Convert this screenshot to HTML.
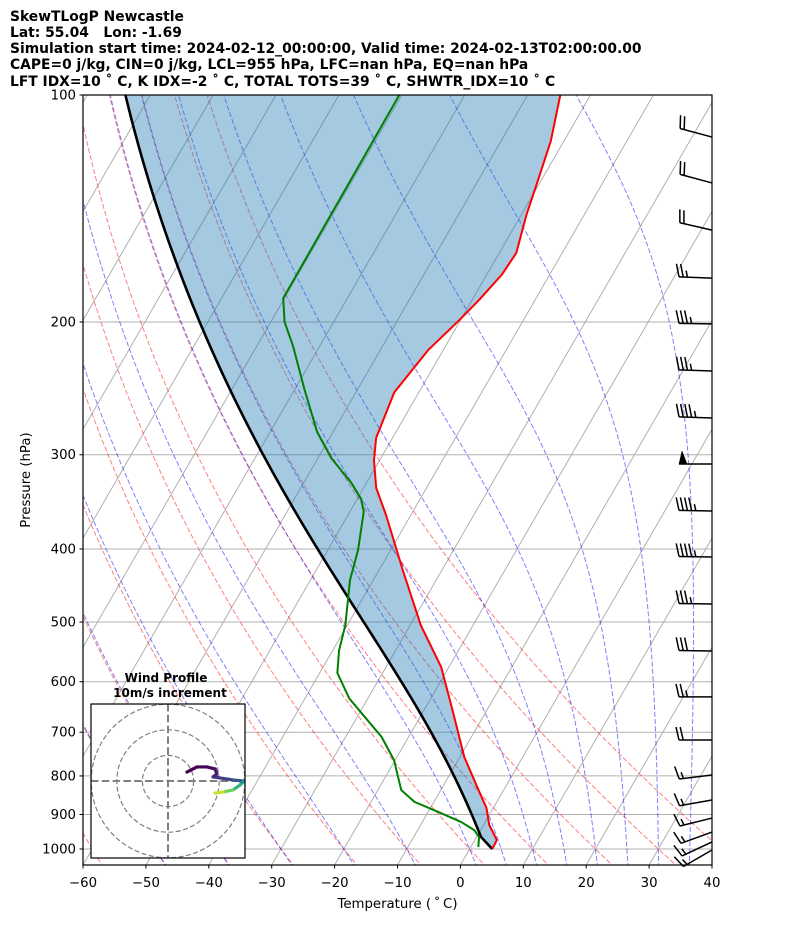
<!DOCTYPE html>
<html><head><meta charset="utf-8"><style>
html,body{margin:0;padding:0;background:#fff;}
svg{display:block;font-family:"DejaVu Sans","Liberation Sans",sans-serif;}
</style></head><body>
<svg id="chart" width="794" height="937" viewBox="0 0 794 937" xmlns="http://www.w3.org/2000/svg">
<defs>
<clipPath id="plotclip"><rect x="83" y="95" width="629" height="770"/></clipPath>
<clipPath id="hodoclip"><rect x="91" y="704" width="154" height="154"/></clipPath>
</defs>
<g font-weight="bold" font-size="13.85" fill="#000">
<text x="10" y="21">SkewTLogP Newcastle</text>
<text x="10" y="37" xml:space="preserve">Lat: 55.04   Lon: -1.69</text>
<text x="10" y="53">Simulation start time: 2024-02-12_00:00:00, Valid time: 2024-02-13T02:00:00.00</text>
<text x="10" y="69">CAPE=0 j/kg, CIN=0 j/kg, LCL=955 hPa, LFC=nan hPa, EQ=nan hPa</text>
<text x="10" y="86">LFT IDX=10 ˚ C, K IDX=-2 ˚ C, TOTAL TOTS=39 ˚ C, SHWTR_IDX=10 ˚ C</text>
</g>
<g id="bg" clip-path="url(#plotclip)"></g>
<g id="fg" clip-path="url(#plotclip)"></g>
<g id="barbs"></g>
<g id="axes"></g>
<g id="hodo"></g>
</svg>
<script>
// ---- data ----
const tempP = [1000,973,929,882,840,755,660,574,505,427,361,332,305,285,248,218,199,187,173,162,144,130,115,100];
const tempT = [3.6,3.5,0.9,-1.1,-3.7,-9.3,-15.1,-21.2,-28.3,-36.2,-43.9,-48.0,-50.9,-52.6,-53.9,-52.4,-50.2,-48.9,-47.6,-47.3,-49.2,-50.5,-52.1,-54.8];
const dewP = [994,964,944,921,893,866,835,762,710,660,631,584,545,505,440,401,357,344,327,303,280,246,215,200,186,100];
const dewTd = [1.2,0.4,-1.0,-3.8,-8.4,-13.1,-16.3,-20.2,-24.3,-29.7,-33.0,-37.2,-39.0,-40.3,-43.7,-45.2,-47.8,-49.3,-52.4,-57.9,-62.5,-68.4,-74.3,-77.8,-80.2,-80.4];
const barbP = [113.7,130.8,151.1,174.9,201.2,232.3,268.2,308.6,356.2,410.0,473.3,546.3,628.5,717,797.8,861,909.8,949.5,978.8,1003];
const barbSpd = [20,20,20,25,35,35,45,50,45,45,35,30,25,20,15,15,15,15,15,15];
const barbDir = [285,285,283,272,271,272,272,270,271,271,271,271,270,270,263,260,256,250,245,240];
const hodoU = [7.4,11.3,15.2,18.4,19.1,17.6,20.3,25.4,29.3,31.5,31.0,28.1,25.4,21.5,18.4];
const hodoV = [3.5,5.5,5.5,4.7,2.7,1.6,1.2,0.4,0.0,0.5,1.5,-1.6,-3.5,-4.3,-4.7];
const pTicks = [100,200,300,400,500,600,700,800,900,1000];
const tTicks = [-60,-50,-40,-30,-20,-10,0,10,20,30,40];
const dryT0 = [-100,-90,-80,-70,-60,-50,-40,-30,-20,-10,0,10,20,30,40];
const moistT0 = [-50,-40,-30,-20,-10,0,5,10,15,20,25,30,35,40,45];

// ---- axis functions ----
const Y0=95, YSPAN=754, YBOT=865, X0=83, XS=6.29, SK=0.5774;
function yP(p){return Y0+YSPAN*Math.log10(p/100);}
function xT(T,p){return X0+(T+60)*XS+SK*(YBOT-yP(p));}
const NS="http://www.w3.org/2000/svg";
function mk(tag,attrs,parent){const e=document.createElementNS(NS,tag);for(const k in attrs)e.setAttribute(k,attrs[k]);parent.appendChild(e);return e;}
function pathFrom(ps,ts){let d="";for(let i=0;i<ps.length;i++){d+=(i?"L":"M")+xT(ts[i],ps[i]).toFixed(2)+","+yP(ps[i]).toFixed(2);}return d;}

// thermo
const Rd=287.04,Cp=1005.7,Lv=2.501e6,EPS=0.622;
function es(Tc){return 6.112*Math.exp(17.67*Tc/(Tc+243.5));}
function rs(Tk,p){const e=es(Tk-273.15);return EPS*e/(p-e);}
function dTdp(Tk,p){const r=rs(Tk,p);return (Rd*Tk+Lv*r)/(Cp+Lv*Lv*r*EPS/(Rd*Tk*Tk))/p;}
function moist(Tstart,pstart,pend,n){let T=Tstart+273.15,p=pstart;const h=(pend-pstart)/n;const out=[[p,T-273.15]];
 for(let i=0;i<n;i++){const k1=dTdp(T,p),k2=dTdp(T+h/2*k1,p+h/2),k3=dTdp(T+h/2*k2,p+h/2),k4=dTdp(T+h*k3,p+h);T+=h/6*(k1+2*k2+2*k3+k4);p+=h;out.push([p,T-273.15]);}return out;}

const bg=document.getElementById('bg'), fg=document.getElementById('fg');
for(let T=-160;T<=40;T+=10){const l=mk('line',{x1:xT(T,1060),y1:yP(1060),x2:xT(T,95),y2:yP(95),stroke:'#b0b0b0','stroke-width':1},bg);

}
pTicks.forEach(p=>{const l=mk('line',{x1:83,x2:712,y1:yP(p),y2:yP(p),stroke:'#b0b0b0','stroke-width':1},bg);

});
const pgrid=[];for(let p=1060;p>=95;p-=10)pgrid.push(p);
dryT0.forEach(t0=>{const th=t0+273.15;const ts=pgrid.map(p=>th*Math.pow(p/1000,0.2857)-273.15);
const l=mk('path',{d:pathFrom(pgrid,ts),fill:'none',stroke:'rgba(255,0,0,0.5)','stroke-width':1,'stroke-dasharray':'5,2.2'},bg);

});
moistT0.forEach(t0=>{const up=moist(t0,1000,95,180),dn=moist(t0,1000,1060,12);const pts=dn.reverse().concat(up.slice(1));
const l=mk('path',{d:pathFrom(pts.map(a=>a[0]),pts.map(a=>a[1])),fill:'none',stroke:'rgba(0,0,255,0.5)','stroke-width':1,'stroke-dasharray':'5,2.2'},bg);

});

function interpLogP(ps,vals,p){for(let i=0;i<ps.length-1;i++){const a=ps[i],b=ps[i+1];if((p<=a&&p>=b)){const f=(Math.log(p)-Math.log(a))/(Math.log(b)-Math.log(a));return vals[i]+f*(vals[i+1]-vals[i]);}}return p>ps[0]?vals[0]:vals[vals.length-1];}
const p0=tempP[0],T0=tempT[0],Td0=interpLogP(dewP,dewTd,p0);
const w0=rs(Td0+273.15,p0);let plcl=p0,Tlcl=T0;
for(let p=p0;p>500;p-=0.5){const Tk=(T0+273.15)*Math.pow(p/p0,0.2857);const e=w0*p/(EPS+w0);const Td=243.5*Math.log(e/6.112)/(17.67-Math.log(e/6.112));if(Td>=Tk-273.15){plcl=p;Tlcl=Tk-273.15;break;}}
const parcel=[];for(let p=p0;p>plcl;p-=2)parcel.push([p,(T0+273.15)*Math.pow(p/p0,0.2857)-273.15]);
moist(Tlcl,plcl,100,200).forEach(a=>parcel.push(a));
const parP=parcel.map(a=>a[0]),parT=parcel.map(a=>a[1]);
const fillP=[];for(let p=p0;p>=100;p-=5)fillP.push(p);
let fd="";fillP.forEach((p,i)=>{fd+=(i?"L":"M")+xT(interpLogP(tempP,tempT,p),p).toFixed(2)+","+yP(p).toFixed(2);});
fillP.slice().reverse().forEach(p=>{fd+="L"+xT(interpLogP(parP,parT,p),p).toFixed(2)+","+yP(p).toFixed(2);});
const sh=mk('path',{d:fd+"Z",fill:'rgba(31,119,180,0.4)',stroke:'none'},fg);


const pl=mk('path',{d:pathFrom(parP,parT),fill:'none',stroke:'#000','stroke-width':2.6},fg);


const tl=mk('path',{d:pathFrom(tempP,tempT),fill:'none',stroke:'#ff0000','stroke-width':2,'stroke-linejoin':'round'},fg);


const dl=mk('path',{d:pathFrom(dewP,dewTd),fill:'none',stroke:'#008000','stroke-width':2,'stroke-linejoin':'round'},fg);



const bgp=document.getElementById('barbs');
barbP.forEach((p,i)=>{const dir=barbDir[i]*Math.PI/180;const dx=Math.sin(dir),dy=-Math.cos(dir);const nx=-dy,ny=dx;
 const bx=712,by=yP(p),L=33;const tx=bx+L*dx,ty=by+L*dy;
 const g=mk('g',{stroke:'#000','stroke-width':1.5,fill:'#000'},bgp);
 
 
 mk('line',{x1:bx,y1:by,x2:tx,y2:ty},g);
 let s=barbSpd[i];let pos=0;const sp=4.2,bl=13;
 while(s>=50){const ax=tx-pos*dx,ay=ty-pos*dy;mk('polygon',{points:`${ax},${ay} ${ax-8*dx},${ay-8*dy} ${ax-3*dx+bl*nx},${ay-3*dy+bl*ny}`,'stroke-width':0.5},g);pos+=10;s-=50;}
 while(s>=10){const ax=tx-pos*dx,ay=ty-pos*dy;mk('line',{x1:ax,y1:ay,x2:ax+bl*nx+3*dx,y2:ay+bl*ny+3*dy},g);pos+=sp;s-=10;}
 if(s>=5){if(pos===0)pos=sp;const ax=tx-pos*dx,ay=ty-pos*dy;mk('line',{x1:ax,y1:ay,x2:ax+bl/2*nx+1.5*dx,y2:ay+bl/2*ny+1.5*dy},g);}
});

const ax=document.getElementById('axes');
const fr=mk('rect',{x:83,y:95,width:629,height:770,fill:'none',stroke:'#000','stroke-width':1.2},ax);


pTicks.forEach(p=>{const y=yP(p);mk('line',{x1:79.5,x2:83,y1:y,y2:y,stroke:'#000','stroke-width':1},ax);
 const t=mk('text',{x:76,y:y+4.5,'text-anchor':'end','font-size':13.3},ax);t.textContent=String(p);
 
 });
tTicks.forEach(T=>{const x=X0+(T+60)*XS;mk('line',{x1:x,x2:x,y1:865,y2:868.5,stroke:'#000','stroke-width':1},ax);
 const t=mk('text',{x:x,y:887,'text-anchor':'middle','font-size':13.3},ax);t.textContent=(T<0?'\u2212':'')+Math.abs(T);
 
 });
const xt=mk('text',{x:397.5,y:908,'text-anchor':'middle','font-size':13.3},ax);xt.textContent='Temperature (\u2009˚\u2009C)';


const yt=mk('text',{x:0,y:0,'text-anchor':'middle','font-size':13.3,transform:'translate(30,480) rotate(-90)'},ax);yt.textContent='Pressure (hPa)';



const hg=document.getElementById('hodo');const HX=168,HY=781,HS=2.56;
const hb=mk('rect',{x:91,y:704,width:154,height:154,fill:'#fff',stroke:'none'},hg);


const hc=mk('g',{'clip-path':'url(#hodoclip)'},hg);
[10,20,30].forEach(r=>{const c=mk('circle',{cx:HX,cy:HY,r:r*HS,fill:'none',stroke:'#808080','stroke-width':1.2,'stroke-dasharray':'5,2.5'},hc);

});
mk('line',{x1:91,x2:245,y1:HY,y2:HY,stroke:'#808080','stroke-width':2,'stroke-dasharray':'7.5,3.3'},hc);
mk('line',{x1:HX,x2:HX,y1:704,y2:858,stroke:'#808080','stroke-width':2,'stroke-dasharray':'7.5,3.3'},hc);
const vir=[[68,1,84],[72,40,120],[62,73,137],[49,104,142],[38,130,142],[31,158,137],[53,183,121],[109,205,89],[180,222,44],[253,231,37]];
function viridis(f){const x=f*(vir.length-1),i=Math.min(Math.floor(x),vir.length-2),t=x-i;const c=vir[i].map((v,k)=>Math.round(v+(vir[i+1][k]-v)*t));return `rgb(${c})`;}
for(let i=0;i<hodoU.length-1;i++){const f=Math.pow(i/(hodoU.length-2),2)*0.92;const s=mk('line',{x1:HX+hodoU[i]*HS,y1:HY-hodoV[i]*HS,x2:HX+hodoU[i+1]*HS,y2:HY-hodoV[i+1]*HS,stroke:viridis(f),'stroke-width':3.2,'stroke-linecap':'round'},hc);

}
mk('rect',{x:91,y:704,width:154,height:154,fill:'none',stroke:'#000','stroke-width':1.2},hg);
const h1=mk('text',{x:166,y:682,'text-anchor':'middle','font-size':12,'font-weight':'bold'},hg);h1.textContent='Wind Profile';


const h2=mk('text',{x:170,y:697,'text-anchor':'middle','font-size':12,'font-weight':'bold'},hg);h2.textContent='10m/s increment';


</script>
</body></html>
